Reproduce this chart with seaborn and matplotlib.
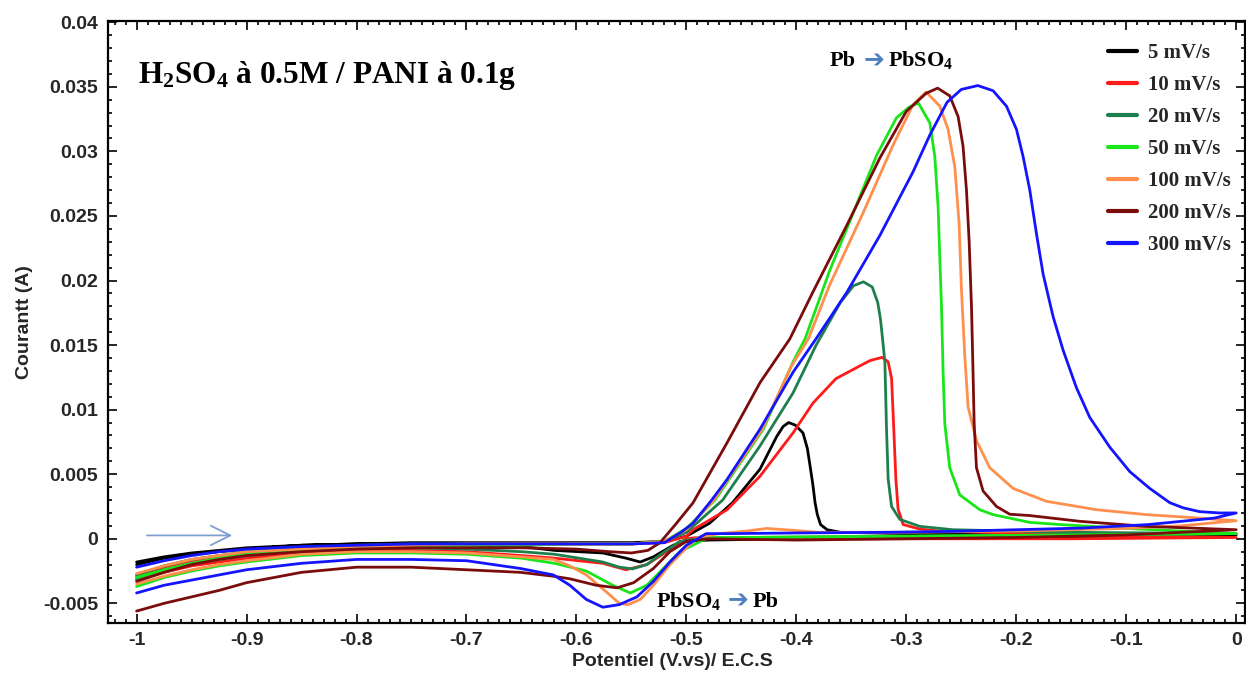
import matplotlib
matplotlib.use("Agg")
import matplotlib.pyplot as plt
from matplotlib.ticker import MultipleLocator, FuncFormatter
from matplotlib.font_manager import FontProperties
import seaborn as sns

# Scan rates and line colours
labels = ["5 mV/s", "10 mV/s", "20 mV/s", "50 mV/s", "100 mV/s", "200 mV/s", "300 mV/s"]
colors = ["#000000", "#ff1a1a", "#1e7f4e", "#19e619", "#ff8f4d", "#7a0c0c", "#1414ff"]

# Each voltammogram: positive-going scan (first two lines), then the return scan (last two lines)
v_5 = [-1.00, -0.975, -0.95, -0.925, -0.90, -0.85, -0.80, -0.75, -0.70, -0.65, -0.60, -0.55, -0.52,
       -0.50, -0.479, -0.458, -0.433, -0.418, -0.412, -0.407, -0.401, -0.394, -0.390, -0.388, -0.385, -0.383, -0.381, -0.378, -0.372, -0.36, -0.30, -0.20, -0.10, 0.00,
       -0.10, -0.25, -0.40, -0.48, -0.50, -0.512, -0.530, -0.542, -0.555, -0.576,
       -0.62, -0.65, -0.70, -0.75, -0.80, -0.85, -0.90, -0.925, -0.95, -0.975, -1.00]
i_5 = [-0.0018, -0.0014, -0.0011, -0.0009, -0.0007, -0.0005, -0.0004, -0.0003, -0.0003, -0.0003, -0.0003, -0.0003, -0.0002,
       0.0002, 0.0012, 0.0028, 0.0054, 0.0079, 0.0087, 0.0090, 0.0088, 0.0082, 0.0070, 0.0059, 0.0042, 0.0028, 0.0019, 0.0011, 0.0007, 0.0005, 0.0004, 0.0004, 0.0003, 0.0003,
       0.0002, 0.0001, 0.0000, -0.0001, -0.0002, -0.0005, -0.0014, -0.0018, -0.0015, -0.0011,
       -0.0009, -0.0006, -0.0005, -0.0004, -0.0004, -0.0005, -0.0008, -0.0010, -0.0012, -0.0015, -0.0020]

v_10 = [-1.00, -0.975, -0.95, -0.925, -0.90, -0.85, -0.80, -0.75, -0.70, -0.65, -0.60, -0.55, -0.52,
        -0.50, -0.494, -0.463, -0.433, -0.403, -0.385, -0.364, -0.342, -0.333, -0.322, -0.3165, -0.3134, -0.3114, -0.3095, -0.3075, -0.3029, -0.2877, -0.27, -0.15, 0.00,
        -0.15, -0.30, -0.45, -0.49, -0.50, -0.518, -0.536, -0.555, -0.576,
        -0.62, -0.65, -0.70, -0.75, -0.80, -0.85, -0.90, -0.925, -0.95, -0.975, -1.00]
i_10 = [-0.0029, -0.0022, -0.0017, -0.0014, -0.0011, -0.0008, -0.0006, -0.0005, -0.0005, -0.0004, -0.0004, -0.0004, -0.0003,
        0.0002, 0.0007, 0.00225, 0.00485, 0.0082, 0.0105, 0.0124, 0.0134, 0.0138, 0.01405, 0.0137, 0.0124, 0.0085, 0.0046, 0.0023, 0.0011, 0.00075, 0.0006, 0.0003, 0.0001,
        0.0000, 0.0000, 0.0000, 0.0001, 0.0000, -0.0010, -0.0020, -0.0024, -0.0019,
        -0.0015, -0.0013, -0.0010, -0.0009, -0.0009, -0.0011, -0.0015, -0.0018, -0.0021, -0.0026, -0.0032]

v_20 = [-1.00, -0.975, -0.95, -0.925, -0.90, -0.85, -0.80, -0.75, -0.70, -0.65, -0.60, -0.55, -0.52,
        -0.50, -0.467, -0.433, -0.403, -0.382, -0.360, -0.348, -0.339, -0.331, -0.326, -0.3235, -0.322, -0.3195, -0.318, -0.3165, -0.3134, -0.3059, -0.2877, -0.2574, -0.15, 0.00,
        -0.15, -0.30, -0.45, -0.49, -0.506, -0.524, -0.536, -0.549, -0.561, -0.576,
        -0.62, -0.65, -0.70, -0.75, -0.80, -0.85, -0.90, -0.925, -0.95, -0.975, -1.00]
i_20 = [-0.0028, -0.0021, -0.0016, -0.0013, -0.0010, -0.0007, -0.0005, -0.0004, -0.0004, -0.0004, -0.0004, -0.0004, -0.0002,
        0.0005, 0.0030, 0.0072, 0.0113, 0.0150, 0.0183, 0.0196, 0.0199, 0.0195, 0.0183, 0.0170, 0.0158, 0.0137, 0.0085, 0.0046, 0.0025, 0.0015, 0.00096, 0.0007, 0.0005, 0.0004,
        0.0003, 0.0002, 0.0001, 0.0000, -0.0002, -0.00124, -0.0020, -0.00233, -0.0022, -0.0018,
        -0.0012, -0.0010, -0.0008, -0.0007, -0.0007, -0.0009, -0.0013, -0.0016, -0.0019, -0.0024, -0.0031]

v_50 = [-1.00, -0.975, -0.95, -0.925, -0.90, -0.85, -0.80, -0.75, -0.70, -0.65, -0.60, -0.55, -0.52,
        -0.50, -0.474, -0.430, -0.403, -0.392, -0.370, -0.348, -0.327, -0.309, -0.298, -0.289, -0.2786, -0.2741, -0.2711, -0.268, -0.2665, -0.265, -0.2605, -0.2514, -0.2332, -0.2211, -0.1877, -0.16, -0.10, 0.00,
        -0.15, -0.30, -0.45, -0.48, -0.506, -0.521, -0.536, -0.551, -0.567, -0.591,
        -0.62, -0.65, -0.70, -0.75, -0.80, -0.85, -0.90, -0.925, -0.95, -0.975, -1.00]
i_50 = [-0.0030, -0.0024, -0.0019, -0.0015, -0.0012, -0.0009, -0.0007, -0.0006, -0.0005, -0.0005, -0.0004, -0.0004, -0.0002,
        0.0008, 0.0030, 0.0085, 0.0137, 0.0155, 0.0207, 0.0253, 0.0297, 0.0326, 0.0334, 0.03375, 0.0322, 0.0296, 0.0257, 0.0179, 0.0128, 0.0089, 0.0055, 0.0034, 0.00225, 0.00187, 0.00127, 0.0011, 0.0008, 0.0004,
        0.0003, 0.0002, 0.0001, 0.0001, -0.0010, -0.0023, -0.0036, -0.0042, -0.0036, -0.0025,
        -0.0019, -0.0015, -0.0012, -0.0011, -0.0011, -0.0013, -0.0018, -0.0021, -0.0025, -0.0030, -0.0037]

v_100 = [-1.00, -0.975, -0.95, -0.925, -0.90, -0.85, -0.80, -0.75, -0.70, -0.65, -0.60, -0.55, -0.52,
         -0.50, -0.475, -0.431, -0.405, -0.389, -0.370, -0.339, -0.312, -0.294, -0.282, -0.2695, -0.262, -0.2559, -0.252, -0.2498, -0.2468, -0.2438, -0.2362, -0.2241, -0.2029, -0.1726, -0.1271, -0.0817, -0.051, 0.00,
         -0.05, -0.10, -0.20, -0.30, -0.38, -0.41, -0.427, -0.445, -0.47, -0.49, -0.50, -0.515, -0.530, -0.542, -0.553, -0.561, -0.573, -0.591, -0.606, -0.621,
         -0.65, -0.70, -0.75, -0.80, -0.85, -0.90, -0.925, -0.95, -0.975, -1.00]
i_100 = [-0.0027, -0.0021, -0.0016, -0.0013, -0.0010, -0.0008, -0.0006, -0.0005, -0.0004, -0.0004, -0.0004, -0.0004, -0.0002,
         0.0007, 0.0030, 0.0085, 0.0133, 0.0155, 0.0196, 0.0253, 0.0305, 0.0336, 0.0346, 0.0335, 0.0317, 0.0288, 0.0244, 0.0192, 0.0141, 0.0102, 0.0076, 0.0055, 0.0039, 0.0029, 0.00225, 0.00187, 0.0017, 0.0014,
         0.0010, 0.0008, 0.0006, 0.0005, 0.0005, 0.0007, 0.0008, 0.0006, 0.0004, 0.0001, -0.0007, -0.0020, -0.0036, -0.0047, -0.0051, -0.0050, -0.0041, -0.0028, -0.0021, -0.0016,
         -0.0014, -0.0011, -0.0010, -0.0010, -0.0012, -0.0017, -0.0020, -0.0024, -0.0029, -0.0035]

v_200 = [-1.00, -0.975, -0.95, -0.925, -0.90, -0.85, -0.80, -0.75, -0.70, -0.65, -0.60, -0.57, -0.55,
         -0.535, -0.524, -0.51, -0.494, -0.463, -0.433, -0.406, -0.385, -0.354, -0.324, -0.300, -0.282, -0.2715, -0.2605, -0.2529, -0.2484, -0.2453, -0.2429, -0.2407, -0.2393, -0.2383, -0.2362, -0.2302, -0.218, -0.2059, -0.188, -0.142, -0.082, 0.00,
         -0.10, -0.20, -0.40, -0.48, -0.50, -0.515, -0.530, -0.548, -0.563, -0.582, -0.606,
         -0.621, -0.651, -0.70, -0.75, -0.80, -0.85, -0.90, -0.925, -0.95, -0.975, -1.00]
i_200 = [-0.0033, -0.0026, -0.0020, -0.0016, -0.0013, -0.0010, -0.0008, -0.0007, -0.0007, -0.0007, -0.0008, -0.0010, -0.0011,
         -0.0009, -0.0003, 0.0011, 0.00278, 0.00744, 0.0121, 0.01547, 0.0191, 0.0243, 0.0295, 0.0331, 0.0345, 0.0349, 0.0343, 0.0327, 0.0304, 0.0270, 0.0231, 0.0179, 0.0128, 0.0089, 0.0055, 0.0037, 0.0025, 0.0019, 0.0018, 0.00135, 0.00096, 0.0007,
         0.0003, 0.0001, -0.0001, 0.0000, -0.0002, -0.0010, -0.0023, -0.0034, -0.0038, -0.0036, -0.0031,
         -0.0029, -0.0026, -0.0024, -0.0022, -0.0022, -0.0026, -0.0034, -0.0040, -0.0045, -0.0050, -0.0056]

v_300 = [-1.00, -0.975, -0.95, -0.925, -0.90, -0.85, -0.80, -0.75, -0.70, -0.65, -0.60, -0.55, -0.52,
         -0.505, -0.494, -0.477, -0.463, -0.433, -0.403, -0.382, -0.354, -0.324, -0.294, -0.279, -0.263, -0.250, -0.235, -0.2211, -0.2089, -0.1998, -0.1938, -0.1877,
         -0.1816, -0.1756, -0.1665, -0.1574, -0.1453, -0.1332, -0.1150, -0.0968, -0.0786, -0.0605, -0.0484, -0.0332, -0.015, 0.00,
         -0.02, -0.08, -0.14, -0.20, -0.26, -0.32, -0.40, -0.46, -0.482, -0.500, -0.515, -0.530, -0.545, -0.561, -0.576, -0.591, -0.606,
         -0.621, -0.651, -0.70, -0.75, -0.80, -0.85, -0.90, -0.925, -0.95, -0.975, -1.00]
i_300 = [-0.0022, -0.0017, -0.0013, -0.0010, -0.0008, -0.0006, -0.0005, -0.0004, -0.0004, -0.0004, -0.0004, -0.0004, -0.0003,
         0.0005, 0.0012, 0.0030, 0.0046, 0.0085, 0.0129, 0.0155, 0.0191, 0.0235, 0.0284, 0.0312, 0.0338, 0.0348, 0.0351, 0.0347, 0.0335, 0.0317, 0.0296, 0.0270,
         0.0236, 0.0205, 0.0172, 0.0146, 0.0117, 0.0094, 0.0071, 0.0052, 0.0039, 0.0028, 0.0024, 0.0021, 0.0020, 0.0020,
         0.0016, 0.0011, 0.00083, 0.0007, 0.00057, 0.0005, 0.00045, 0.0004, 0.0004, -0.0005, -0.0018, -0.0033, -0.0045, -0.0051, -0.0053, -0.0047, -0.0036,
         -0.0028, -0.0023, -0.0017, -0.0016, -0.0016, -0.0019, -0.0024, -0.0028, -0.0032, -0.0036, -0.0042]

potentials = [v_5, v_10, v_20, v_50, v_100, v_200, v_300]
currents = [i_5, i_10, i_20, i_50, i_100, i_200, i_300]

x_ticks = [-1.0, -0.9, -0.8, -0.7, -0.6, -0.5, -0.4, -0.3, -0.2, -0.1, 0.0]
y_ticks = [-0.005, 0.0, 0.005, 0.01, 0.015, 0.02, 0.025, 0.03, 0.035, 0.04]

sns.set_theme(style="ticks")
plt.rcParams.update({
    "font.family": ["Liberation Sans", "DejaVu Sans"],
    "font.weight": "bold",
    "axes.unicode_minus": False,
    "mathtext.fontset": "custom",
    "mathtext.rm": "Liberation Serif:bold",
    "mathtext.bf": "Liberation Serif:bold",
    "mathtext.it": "Liberation Serif:bold",
})

W, H = 1246, 677
fig = plt.figure(figsize=(W / 100, H / 100), dpi=100)
ax = fig.add_axes([108 / W, 1 - 622.7 / H, (1245 - 108) / W, (622.7 - 21) / H])
ax.set_facecolor("white")

for v, i, lab, col in zip(potentials, currents, labels, colors):
    sns.lineplot(x=v, y=i, sort=False, estimator=None, color=col, linewidth=2.0,
                 label=lab, ax=ax)

ax.set_xlim(-1.026, 0.008)
ax.set_ylim(-0.0065, 0.0401)
ax.set_xticks(x_ticks)
ax.set_yticks(y_ticks)
ax.xaxis.set_minor_locator(MultipleLocator(0.01))
ax.yaxis.set_minor_locator(MultipleLocator(0.001))
ax.xaxis.set_major_formatter(FuncFormatter(lambda x, p: "%g" % round(x, 3)))
ax.yaxis.set_major_formatter(FuncFormatter(lambda y, p: "%g" % round(y, 4)))
ax.tick_params(which="both", direction="in", top=True, right=True, color="black", width=1.2)
ax.tick_params(which="major", length=6.5, pad=7, labelsize=14)
ax.tick_params(which="minor", length=3)
for lbl in ax.get_xticklabels() + ax.get_yticklabels():
    lbl.set_fontweight("bold")
for s in ax.spines.values():
    s.set_linewidth(1.6)
    s.set_color("black")

ax.set_xlabel("Potentiel (V.vs)/ E.C.S", fontsize=14, fontweight="bold")
ax.set_ylabel("Courantt (A)", fontsize=14, fontweight="bold")
ax.xaxis.set_label_coords(0.496, -0.050)
ax.yaxis.set_label_coords(-0.066, 0.5)

leg = ax.legend(loc="upper left", bbox_to_anchor=(1108 / W, 1 - 43 / H), bbox_transform=fig.transFigure,
                frameon=False, prop=FontProperties(family="Liberation Serif", weight="bold", size=15),
                handlelength=1.4, handletextpad=0.5, labelspacing=0.58, borderpad=0, borderaxespad=0)
for ln in leg.get_lines():
    ln.set_linewidth(3)

serif_bold = dict(family="Liberation Serif", weight="bold", color="black")
arrow_col = "#4f7fbf"

# Title of the experiment
fig.text(138 / W, 1 - 83 / H, r"H$_{\mathbf{2}}$SO$_{\mathbf{4}}$ à 0.5M / PANI à 0.1g",
         fontsize=22.5, va="baseline", ha="left", **serif_bold)

# Oxidation peak label
fig.text(830 / W, 1 - 66 / H, "Pb", fontsize=16, va="baseline", ha="left", **serif_bold)
fig.text(874 / W, 1 - 60 / H, "\u2794", fontsize=18, va="center", ha="center",
         family="DejaVu Sans", color=arrow_col)
fig.text(888 / W, 1 - 66 / H, r"PbSO$_{\mathbf{4}}$", fontsize=16, va="baseline", ha="left", **serif_bold)

# Reduction peak label
fig.text(656 / W, 1 - 607 / H, r"PbSO$_{\mathbf{4}}$", fontsize=16, va="baseline", ha="left", **serif_bold)
fig.text(738 / W, 1 - 600 / H, "\u2794", fontsize=18, va="center", ha="center",
         family="DejaVu Sans", color=arrow_col)
fig.text(753 / W, 1 - 607 / H, "Pb", fontsize=16, va="baseline", ha="left", **serif_bold)

# Scan direction arrow
ax.annotate("", xy=(-0.913, 0.00026), xytext=(-0.9905, 0.00026),
            arrowprops=dict(arrowstyle="->,head_length=0.7,head_width=0.35", color="#7f9fcf",
                            lw=1.3, mutation_scale=20, shrinkA=0, shrinkB=0))

fig.savefig("out.png", dpi=100, facecolor="white")
